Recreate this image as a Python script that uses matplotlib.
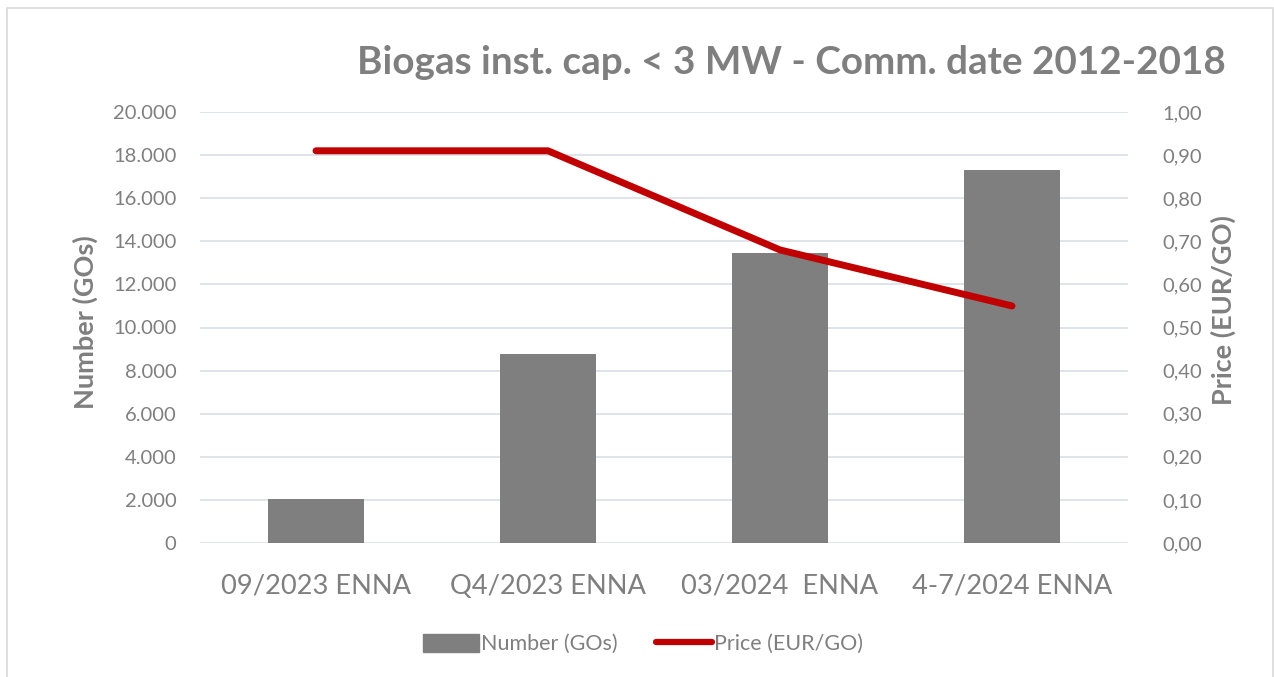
import matplotlib
matplotlib.use("Agg")
import matplotlib.pyplot as plt
from matplotlib.ticker import FuncFormatter, MultipleLocator
from matplotlib.patches import Rectangle
from matplotlib.lines import Line2D

categories = ["09/2023 ENNA", "Q4/2023 ENNA", "03/2024  ENNA", "4-7/2024 ENNA"]
number_gos = [2050, 8750, 13450, 17300]
price_eur = [0.91, 0.91, 0.68, 0.55]

TEXT = "#7f7f7f"
GRID = "#d9dee6"
BAR = "#7f7f7f"
LINE = "#c00000"
FONT = ["Lato", "DejaVu Sans"]

plt.rcParams["font.family"] = FONT

fig = plt.figure(figsize=(12.74, 6.77), dpi=100)
fig.patches.append(Rectangle((7 / 1274, -0.01), 1266 / 1274, 1 - 8 / 677 + 0.01,
                             transform=fig.transFigure, fill=False,
                             edgecolor="#d9d9d9", linewidth=1.2))

ax = fig.add_axes([200 / 1274, 1 - 543 / 677, 928 / 1274, 431 / 677])
ax2 = ax.twinx()

x = list(range(len(categories)))
ax.bar(x, number_gos, width=0.41, color=BAR, zorder=2)
ax.set_xlim(-0.5, len(categories) - 0.5)
ax.set_ylim(0, 20000)
ax.yaxis.set_major_locator(MultipleLocator(2000))
ax.yaxis.set_major_formatter(FuncFormatter(lambda v, p: f"{int(v):,}".replace(",", ".")))
ax.grid(axis="y", color=GRID, linewidth=1.2, zorder=0)
ax.set_axisbelow(True)

ax2.plot(x, price_eur, color=LINE, linewidth=5, solid_capstyle="round",
         solid_joinstyle="round", zorder=3)
ax2.set_ylim(0, 1.0)
ax2.yaxis.set_major_locator(MultipleLocator(0.1))
ax2.yaxis.set_major_formatter(FuncFormatter(lambda v, p: f"{v:.2f}".replace(".", ",")))

for a in (ax, ax2):
    for s in a.spines.values():
        s.set_visible(False)
    a.tick_params(axis="y", length=0, labelsize=14.5, labelcolor=TEXT)

ax.tick_params(axis="y", pad=17)
ax2.tick_params(axis="y", pad=25)
ax.set_xticks(x)
ax.set_xticklabels(categories)
ax.tick_params(axis="x", length=0, labelsize=19.6, labelcolor=TEXT, pad=22)

ax.set_ylabel("Number (GOs)", fontsize=19.5, fontweight="bold", color=TEXT)
ax2.set_ylabel("Price (EUR/GO)", fontsize=19.5, fontweight="bold", color=TEXT)
ax.yaxis.set_label_coords(-102 / 928, 0.513)
ax2.yaxis.set_label_coords(1 + 83 / 928, 0.54)

fig.text(1226 / 1274, 1 - 63 / 677, "Biogas inst. cap. < 3 MW - Comm. date 2012-2018",
         ha="right", va="center", fontsize=27.8, fontweight="bold", color=TEXT)

handles = [Rectangle((0, 0), 1, 1, color=BAR),
           Line2D([0], [0], color=LINE, linewidth=4.5, solid_capstyle="round")]
fig.legend(handles, ["Number (GOs)", "Price (EUR/GO)"], loc="center",
           bbox_to_anchor=(643 / 1274, 1 - 644 / 677), ncol=2, frameon=False,
           fontsize=15.5, labelcolor=TEXT, handlelength=2.6, handleheight=0.9,
           handletextpad=0.1, columnspacing=1.75)

fig.savefig("out.png", dpi=100)
